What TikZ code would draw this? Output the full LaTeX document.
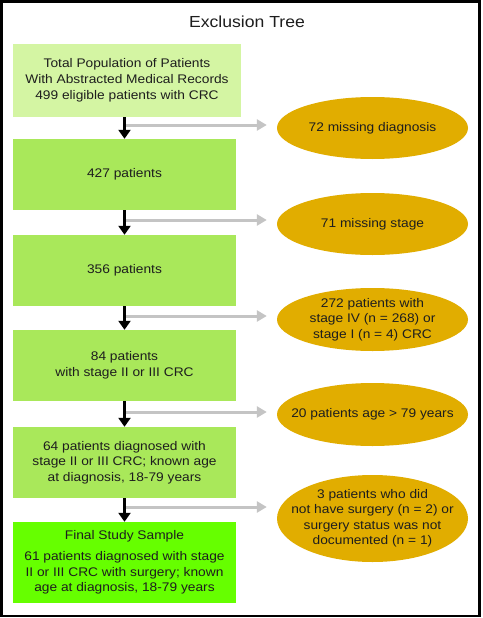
\documentclass[tikz,border=0pt]{standalone}
\usepackage{fontspec}
\setmainfont[FakeStretch=1.1]{Liberation Sans}
\usetikzlibrary{shapes.geometric,arrows.meta}
\definecolor{boxpale}{RGB}{212,245,163}
\definecolor{boxmid}{RGB}{169,232,90}
\definecolor{boxfinal}{RGB}{102,255,0}
\definecolor{ellfill}{RGB}{225,173,0}
\definecolor{arrgray}{RGB}{196,196,196}
\definecolor{txt}{RGB}{30,30,30}
\begin{document}
\begin{tikzpicture}[x=1pt,y=-1pt,
  every node/.style={font=\fontsize{12.5}{15.5}\selectfont, text=txt},
  stagebox/.style={rectangle, inner sep=0pt, minimum width=223pt, minimum height=71pt, align=center, fill=boxmid},
  excl/.style={ellipse, fill=ellfill, minimum width=191pt, minimum height=62pt, inner xsep=-45pt, inner ysep=-22pt, align=center},
  flow/.style={draw=black, line width=2.2pt, -{Triangle[length=9pt,width=12pt]}},
  side/.style={draw=arrgray, line width=3pt, -{Triangle[length=10pt,width=11pt]}, shorten >=10pt}]
\useasboundingbox (0,0) rectangle (482,618);
\fill[white] (0,0) rectangle (482,618);
\draw[line width=2.5pt] (1.3,1.3) rectangle (479.5,616);
\node (title) at (247,22) {\fontsize{16}{18}\selectfont Exclusion Tree};
% boxes
\node[stagebox, fill=boxpale, minimum width=228pt, minimum height=73pt] (b1) at (127,80.5)
  {Total Population of Patients\\With Abstracted Medical Records\\[1pt]499 eligible patients with CRC};
\node[stagebox] (b2) at (124.5,174.5) {427 patients};
\node[stagebox] (b3) at (124.5,270.5) {356 patients};
\node[stagebox] (b4) at (124.5,365.5) {84 patients\\with stage II or III CRC};
\node[stagebox] (b5) at (124.5,462.5) {64 patients diagnosed with\\stage II or III CRC; known age\\at diagnosis, 18-79 years};
\node[stagebox, fill=boxfinal, minimum height=81pt] (b6) at (124.5,562.5)
  {Final Study Sample\\[6pt]61 patients diagnosed with stage\\II or III CRC with surgery; known\\age at diagnosis, 18-79 years};
% ellipses
\node[excl] (e1) at (372.5,128) {72 missing diagnosis};
\node[excl] (e2) at (372.5,224) {71 missing stage};
\node[excl, minimum height=63pt] (e3) at (372.5,319.5) {272 patients with\\stage IV (n = 268) or\\stage I (n = 4) CRC};
\node[excl, minimum height=63pt] (e4) at (372.5,414.5) {20 patients age > 79 years};
\node[excl, minimum height=87pt] (e5) at (372.5,518.5) {3 patients who did\\not have surgery (n = 2) or\\surgery status was not\\documented (n = 1)};
% side arrow starts
\coordinate (s1) at (125,125);
\coordinate (s2) at (125,220);
\coordinate (s3) at (125,316);
\coordinate (s4) at (125,412);
\coordinate (s5) at (125,507);
\draw[side] (s1) -- (s1 -| e1.west);
\draw[side] (s2) -- (s2 -| e2.west);
\draw[side] (s3) -- (s3 -| e3.west);
\draw[side] (s4) -- (s4 -| e4.west);
\draw[side] (s5) -- (s5 -| e5.west);
% main flow
\draw[flow] (b2.north |- b1.south) -- (b2.north);
\draw[flow] (b2.south) -- (b3.north);
\draw[flow] (b3.south) -- (b4.north);
\draw[flow] (b4.south) -- (b5.north);
\draw[flow] (b5.south) -- (b6.north);
\end{tikzpicture}
\end{document}
